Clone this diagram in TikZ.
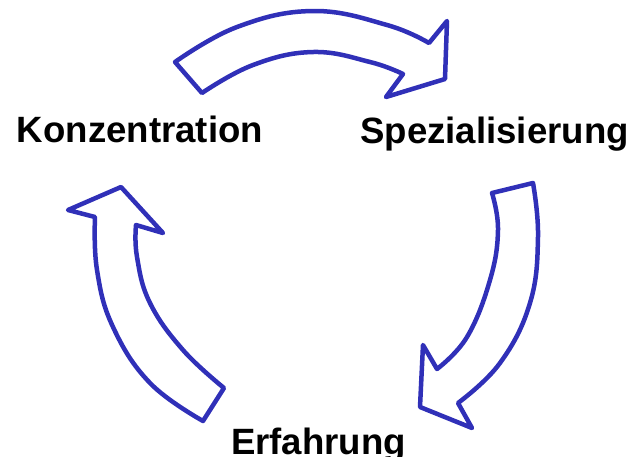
\documentclass[tikz,border=0pt]{standalone}
\usepackage{fontspec}
\setmainfont{Liberation Sans}
\definecolor{arrowblue}{RGB}{48,48,184}
\begin{document}
\begin{tikzpicture}[x=1pt,y=-1pt,
  bent/.style={draw=arrowblue,line width=4.5pt,line join=round,fill=white},
  lbl/.style={anchor=base,inner sep=0pt,font=\fontsize{36.6}{40}\selectfont\bfseries}]
\useasboundingbox (0,0) rectangle (633,456);
% top arrow
\draw[bent] (175,62) -- plot[smooth,tension=0.7] coordinates {(175,62) (237,27) (313,11) (387,25) (429,43)}
  -- (447,21) -- (445,79) -- (386,97) -- (403,74)
  -- plot[smooth,tension=0.7] coordinates {(403,74) (370,62) (313,52) (253,65) (202,93)} -- cycle;
% right arrow
\draw[bent] (492,193) -- (533,183)
  -- plot[smooth,tension=0.7] coordinates {(533,183) (538,237) (530,303) (500,363) (458,403)}
  -- (472,428) -- (420,407) -- (423,345) -- (437,369)
  -- plot[smooth,tension=0.7] coordinates {(437,369) (467,337) (490,280) (498,230) (492,193)} -- cycle;
% left arrow
\draw[bent] (203,421) -- (224,388)
  -- plot[smooth,tension=0.7] coordinates {(224,388) (183,350) (150,303) (137,257) (136,225)}
  -- (163,233) -- (121,187) -- (68,210) -- (95,217)
  -- plot[smooth,tension=0.7] coordinates {(95,217) (97,270) (113,327) (150,383) (203,421)} -- cycle;
\node[lbl] (konz) at (140,142) {Konzentration};
\node[lbl] (spez) at (494.5,143) {Spezialisierung};
\node[lbl] (erf) at (318.5,454) {Erfahrung};
\end{tikzpicture}
\end{document}
